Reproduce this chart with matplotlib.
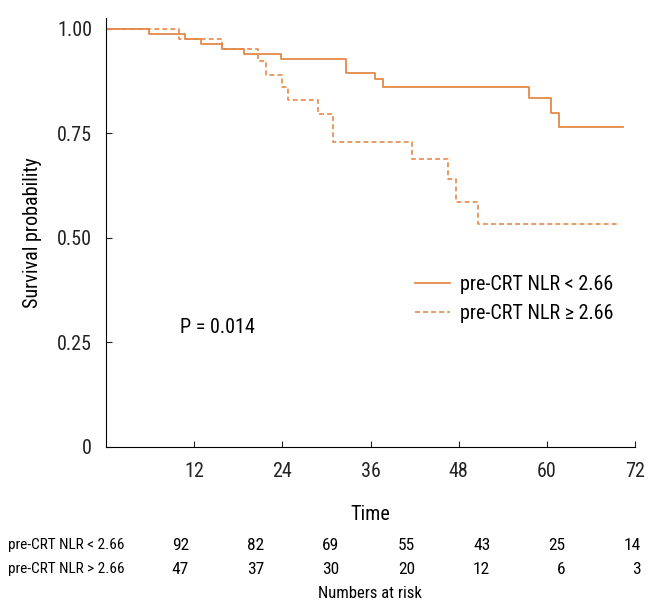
import matplotlib
matplotlib.use("Agg")
import matplotlib.pyplot as plt
from matplotlib import font_manager as fm
from matplotlib.lines import Line2D

# survival curves (months, probability)
low_times = [0, 5.9, 10.8, 12.9, 15.8, 18.8, 23.8, 32.7, 36.6, 37.7, 57.6, 60.5, 61.6, 70.4]
low_surv = [1.0, 0.988, 0.976, 0.963, 0.951, 0.939, 0.927, 0.895, 0.879, 0.861, 0.834, 0.799, 0.766, 0.766]

high_times = [0, 9.9, 15.8, 20.7, 21.8, 23.9, 24.8, 28.8, 30.9, 41.7, 46.6, 47.7, 50.6, 69.5]
high_surv = [1.0, 0.975, 0.951, 0.922, 0.890, 0.862, 0.830, 0.797, 0.730, 0.688, 0.640, 0.586, 0.533, 0.533]

xticks = [12, 24, 36, 48, 60, 72]
yticks = [0, 0.25, 0.50, 0.75, 1.00]
ytick_labels = ['0', '0.25', '0.50', '0.75', '1.00']

legend_labels = ['pre-CRT NLR < 2.66', 'pre-CRT NLR \u2265 2.66']
risk_labels = ['pre-CRT NLR < 2.66', 'pre-CRT NLR > 2.66']
risk_low = [92, 82, 69, 55, 43, 25, 14]
risk_high = [47, 37, 30, 20, 12, 6, 3]

# look for a condensed sans (the original uses a narrow Helvetica-like face)
narrow = None
prefs = ['Liberation Sans Narrow', 'Roboto Condensed', 'Noto Sans', 'DejaVu Sans', 'Open Sans']
found = []
for f in fm.fontManager.ttflist:
    if f.style != 'normal' or f.weight not in (400, 'normal', 'regular', 'book'):
        continue
    if 'Narrow' in f.name or 'Condensed' in f.name or str(f.stretch) in ('condensed', 'semi-condensed'):
        found.append(f)
for p in prefs:
    for f in found:
        if f.name == p:
            narrow = f
            break
    if narrow:
        break
if narrow is None and found:
    narrow = found[0]

if narrow is not None:
    plt.rcParams['font.family'] = [narrow.name, 'DejaVu Sans']
    plt.rcParams['font.stretch'] = narrow.stretch
    fs, risk_fs, lab_fs, nar_fs = 14.5, 12.5, 11, 12
else:
    plt.rcParams['font.family'] = ['Liberation Sans', 'DejaVu Sans']
    fs, risk_fs, lab_fs, nar_fs = 12.5, 11, 8.5, 10
plt.rcParams['lines.scale_dashes'] = False

color = '#E5894A'
W, H = 659, 611

fig = plt.figure(figsize=(W / 100, H / 100), dpi=100)
ax = fig.add_axes([106 / W, 1 - 447 / H, (635 - 106) / W, (447 - 18) / H])

ax.step(low_times, low_surv, where='post', color=color, lw=1.3)
ax.step(high_times, high_surv, where='post', color=color, lw=1.2, linestyle=(0, (3.5, 2.3)))

ax.set_xlim(0, 72)
ax.set_ylim(0, 1.026)
ax.set_xticks(xticks)
ax.set_yticks(yticks)
ax.set_yticklabels(ytick_labels)
ax.spines['top'].set_visible(False)
ax.spines['right'].set_visible(False)
ax.tick_params(direction='in', length=4, labelsize=fs, colors='#222222')
ax.tick_params(axis='x', pad=11)
ax.tick_params(axis='y', pad=10)

ax.set_xlabel('Time', fontsize=fs, labelpad=17)
ax.set_ylabel('Survival probability', fontsize=fs, labelpad=11)

handles = [Line2D([], [], color=color, lw=1.3),
           Line2D([], [], color=color, lw=1.2, linestyle=(0, (3.5, 2.3)))]
ax.legend(handles, legend_labels, frameon=False, fontsize=fs,
          loc='upper left', bbox_to_anchor=((415 - 106) / (635 - 106), (447 - 275) / (447 - 18)),
          handlelength=1.75, handletextpad=0.5, labelspacing=0.5, borderpad=0, borderaxespad=0)

ax.text(10.07, 0.285, 'P = 0.014', fontsize=fs, va='center', ha='left')

# numbers at risk table
for row, (lab, vals) in enumerate([(risk_labels[0], risk_low), (risk_labels[1], risk_high)]):
    y = 1 - (545 + 24.5 * row) / H
    fig.text(8 / W, y, lab, fontsize=lab_fs, va='center', ha='left')
    for i, v in enumerate(vals):
        fig.text((189 + 75.3 * i) / W, y, str(v), fontsize=risk_fs, va='center', ha='right')
fig.text(370 / W, 1 - 594 / H, 'Numbers at risk', fontsize=nar_fs, va='center', ha='center')

fig.savefig('out.png', dpi=100)
